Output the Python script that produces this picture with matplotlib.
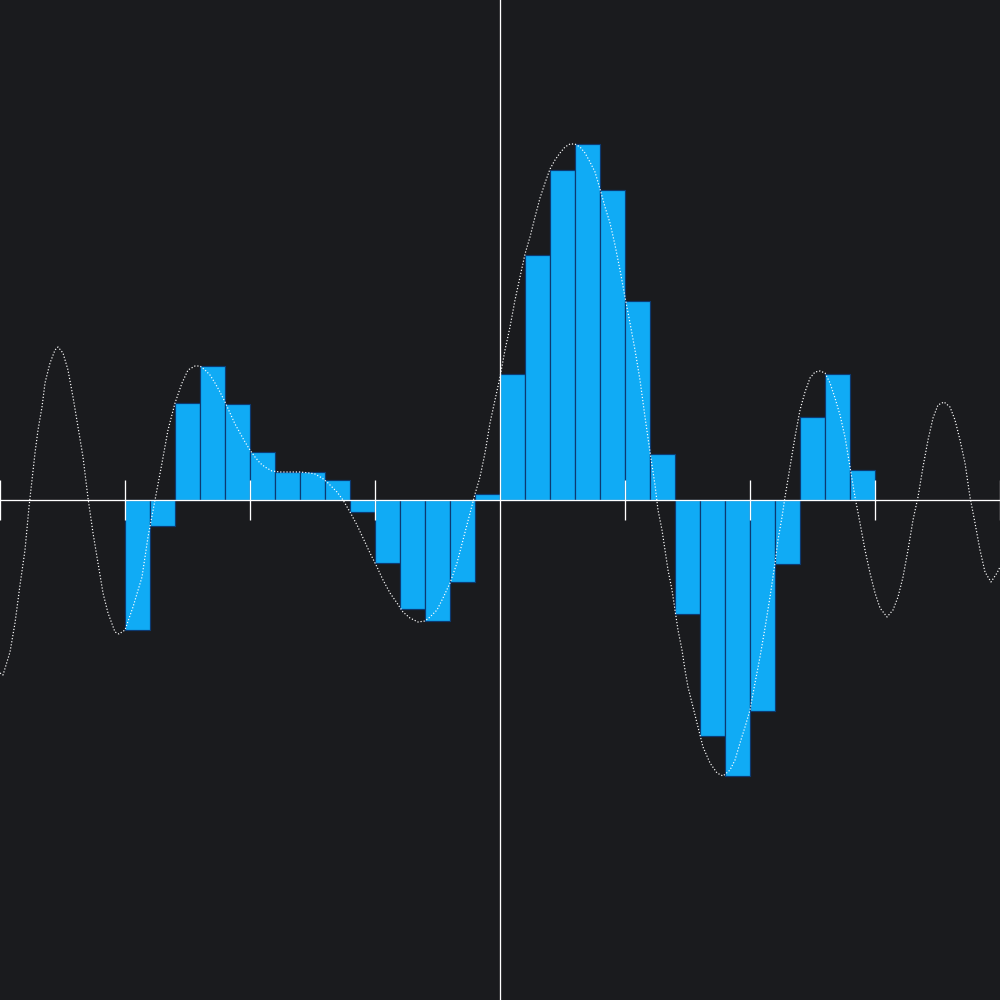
import numpy as np
import matplotlib
matplotlib.use("Agg")
import matplotlib.pyplot as plt

# ---- data (chart units: 1 unit = one tick interval) ----
bar_start, bar_width = -3.0, 0.2
bar_heights = [-1.04, -0.208, 0.776, 1.072, 0.768, 0.384, 0.224, 0.224, 0.16, -0.096,
               -0.504, -0.872, -0.968, -0.656, 0.048, 1.008, 1.96, 2.64, 2.848, 2.48,
               1.592, 0.368, -0.912, -1.888, -2.208, -1.688, -0.512, 0.664, 1.008, 0.24]

curve_x = [-4.0, -3.976, -3.92, -3.88, -3.84, -3.8, -3.768, -3.744, -3.72, -3.696,
           -3.664, -3.64, -3.6, -3.56, -3.536, -3.496, -3.456, -3.416, -3.376, -3.336,
           -3.296, -3.256, -3.216, -3.176, -3.136, -3.08, -3.048, -3.0, -2.936, -2.864,
           -2.816, -2.76, -2.704, -2.656, -2.6, -2.544, -2.496, -2.44, -2.4, -2.36,
           -2.32, -2.28, -2.24, -2.2, -2.16, -2.12, -2.08, -2.04, -2.0, -1.96,
           -1.92, -1.88, -1.824, -1.76, -1.68, -1.6, -1.52, -1.48, -1.424, -1.384,
           -1.344, -1.304, -1.256, -1.2, -1.144, -1.096, -1.04, -0.984, -0.936, -0.88,
           -0.824, -0.776, -0.72, -0.656, -0.6, -0.56, -0.504, -0.456, -0.4, -0.344,
           -0.296, -0.24, -0.2, -0.16, -0.12, -0.08, -0.04, 0.0, 0.04, 0.08,
           0.12, 0.16, 0.2, 0.24, 0.28, 0.32, 0.36, 0.4, 0.44, 0.48,
           0.52, 0.56, 0.6, 0.64, 0.68, 0.72, 0.76, 0.8, 0.84, 0.88,
           0.92, 0.96, 1.0, 1.04, 1.08, 1.12, 1.16, 1.2, 1.24, 1.264,
           1.296, 1.32, 1.344, 1.376, 1.4, 1.424, 1.456, 1.48, 1.504, 1.544,
           1.584, 1.624, 1.68, 1.736, 1.784, 1.84, 1.88, 1.92, 1.96, 2.0,
           2.04, 2.08, 2.12, 2.16, 2.2, 2.224, 2.256, 2.28, 2.32, 2.36,
           2.4, 2.44, 2.48, 2.52, 2.56, 2.6, 2.64, 2.68, 2.72, 2.76,
           2.8, 2.84, 2.88, 2.92, 2.96, 3.0, 3.04, 3.096, 3.144, 3.184,
           3.224, 3.264, 3.304, 3.344, 3.384, 3.424, 3.464, 3.504, 3.552, 3.6,
           3.64, 3.68, 3.72, 3.76, 3.8, 3.84, 3.88, 3.928, 3.976, 4.0]

curve_y = [-1.384, -1.4, -1.216, -0.984, -0.68, -0.4, -0.056, 0.16, 0.376, 0.56,
           0.744, 0.936, 1.096, 1.2, 1.224, 1.176, 1.04, 0.824, 0.584, 0.344,
           0.016, -0.264, -0.504, -0.744, -0.904, -1.056, -1.072, -1.04, -0.856, -0.616,
           -0.296, 0.0, 0.296, 0.56, 0.776, 0.936, 1.04, 1.072, 1.072, 1.04,
           1.0, 0.936, 0.864, 0.784, 0.696, 0.608, 0.536, 0.464, 0.4, 0.344,
           0.296, 0.264, 0.232, 0.224, 0.224, 0.224, 0.216, 0.208, 0.176, 0.144,
           0.104, 0.064, 0.0, -0.096, -0.2, -0.304, -0.424, -0.536, -0.64, -0.744,
           -0.824, -0.896, -0.944, -0.976, -0.968, -0.936, -0.88, -0.784, -0.664, -0.504,
           -0.32, -0.104, 0.048, 0.184, 0.376, 0.616, 0.8, 0.984, 1.2, 1.384,
           1.6, 1.784, 1.968, 2.104, 2.264, 2.416, 2.536, 2.648, 2.72, 2.776,
           2.824, 2.848, 2.848, 2.824, 2.776, 2.704, 2.624, 2.488, 2.344, 2.216,
           2.04, 1.84, 1.624, 1.416, 1.2, 0.96, 0.664, 0.384, 0.12, -0.08,
           -0.24, -0.4, -0.56, -0.72, -0.88, -1.04, -1.2, -1.36, -1.496, -1.656,
           -1.816, -1.976, -2.104, -2.184, -2.208, -2.16, -2.08, -1.944, -1.816, -1.68,
           -1.464, -1.256, -1.024, -0.776, -0.504, -0.32, -0.136, 0.024, 0.264, 0.504,
           0.72, 0.864, 0.976, 1.024, 1.032, 1.016, 0.936, 0.816, 0.68, 0.504,
           0.264, 0.024, -0.184, -0.4, -0.584, -0.744, -0.864, -0.936, -0.88, -0.776,
           -0.616, -0.4, -0.16, 0.024, 0.264, 0.48, 0.656, 0.76, 0.784, 0.744,
           0.64, 0.48, 0.296, 0.024, -0.184, -0.4, -0.576, -0.656, -0.584, -0.536]

tick_positions = [-4, -3, -2, -1, 1, 2, 3, 4]

# ---- style ----
BG = "#1a1b1e"
BAR = "#10abf5"
EDGE = "#0c3a72"
px = 72 / 100  # one pixel in points at dpi 100

fig = plt.figure(figsize=(10, 10), dpi=100, facecolor=BG)
ax = fig.add_axes([0, 0, 1, 1])
ax.set_facecolor(BG)
ax.set_xlim(-4, 4)
ax.set_ylim(-4, 4)
ax.axis("off")

bar_left = bar_start + bar_width * np.arange(len(bar_heights))
ax.bar(bar_left, bar_heights, width=bar_width, align="edge",
       color=BAR, edgecolor=EDGE, linewidth=1.2 * px, zorder=2)

ax.axhline(0, color="white", linewidth=1.3 * px, zorder=3)
ax.axvline(0, color="white", linewidth=1.3 * px, zorder=3)
ax.vlines(tick_positions, -0.16, 0.16, color="white", linewidth=1.3 * px, zorder=3)

ax.plot(curve_x, curve_y, color="white", linewidth=1.2 * px,
        linestyle=(0, (1.0, 1.6)), zorder=4)

fig.savefig("out.png", dpi=100, facecolor=BG)
